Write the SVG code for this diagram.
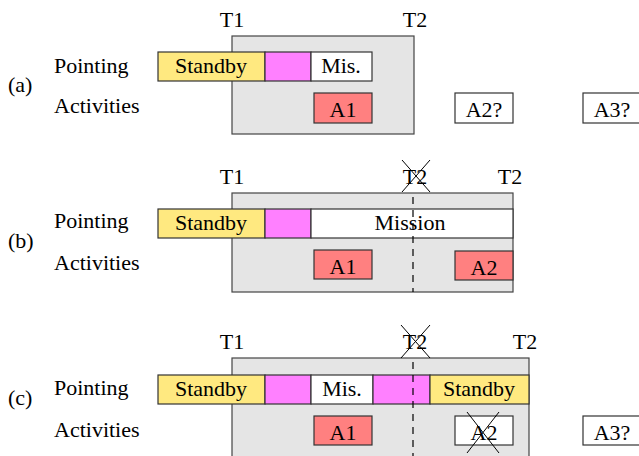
<svg xmlns="http://www.w3.org/2000/svg" width="639" height="456" viewBox="0 0 639 456">
<rect width="639" height="456" fill="#fff"/>
<g id="panel-a">
<text x="8" y="92" style="font-family:'Times New Roman','Liberation Serif',serif;font-size:22px">(a)</text>
<text x="54" y="73" style="font-family:'Times New Roman','Liberation Serif',serif;font-size:22px">Pointing</text>
<text x="54" y="113" style="font-family:'Times New Roman','Liberation Serif',serif;font-size:22px">Activities</text>
<g id="a-window"><rect x="232" y="36" width="182" height="98" fill="#e5e5e5" stroke="#444" stroke-width="1.2"/></g>
<text x="232" y="27" text-anchor="middle" style="font-family:'Times New Roman','Liberation Serif',serif;font-size:22px">T1</text>
<text x="415" y="27" text-anchor="middle" style="font-family:'Times New Roman','Liberation Serif',serif;font-size:22px">T2</text>
<g id="a-standby"><rect x="158" y="52" width="107" height="29" fill="#ffe980" stroke="#333" stroke-width="1.2"/><text x="211" y="73" text-anchor="middle" style="font-family:'Times New Roman','Liberation Serif',serif;font-size:22px">Standby</text></g>
<g id="a-slew"><rect x="265" y="52" width="46" height="29" fill="#ff80ff" stroke="#333" stroke-width="1.2"/></g>
<g id="a-mis"><rect x="311" y="52" width="61" height="29" fill="#fff" stroke="#333" stroke-width="1.2"/><text x="341" y="73" text-anchor="middle" style="font-family:'Times New Roman','Liberation Serif',serif;font-size:22px">Mis.</text></g>
<g id="a-a1"><rect x="314" y="93" width="58" height="30" fill="#ff8080" stroke="#333" stroke-width="1.2"/><text x="343" y="117" text-anchor="middle" style="font-family:'Times New Roman','Liberation Serif',serif;font-size:22px">A1</text></g>
<g id="a-a2"><rect x="455" y="93" width="58" height="30" fill="#fff" stroke="#333" stroke-width="1.2"/><text x="484" y="117" text-anchor="middle" style="font-family:'Times New Roman','Liberation Serif',serif;font-size:22px">A2?</text></g>
<g id="a-a3"><rect x="583" y="93" width="60" height="30" fill="#fff" stroke="#333" stroke-width="1.2"/><text x="612" y="117" text-anchor="middle" style="font-family:'Times New Roman','Liberation Serif',serif;font-size:22px">A3?</text></g>
</g>
<g id="panel-b">
<text x="8" y="248" style="font-family:'Times New Roman','Liberation Serif',serif;font-size:22px">(b)</text>
<text x="54" y="228" style="font-family:'Times New Roman','Liberation Serif',serif;font-size:22px">Pointing</text>
<text x="54" y="270" style="font-family:'Times New Roman','Liberation Serif',serif;font-size:22px">Activities</text>
<g id="b-window"><rect x="232" y="193" width="281" height="99" fill="#e5e5e5" stroke="#444" stroke-width="1.2"/></g>
<text x="232" y="184" text-anchor="middle" style="font-family:'Times New Roman','Liberation Serif',serif;font-size:22px">T1</text>
<text x="415" y="184" text-anchor="middle" style="font-family:'Times New Roman','Liberation Serif',serif;font-size:22px">T2</text>
<path d="M402 160L430 192M430 160L402 192" stroke="#000" stroke-width="1" fill="none"/>
<text x="510" y="184" text-anchor="middle" style="font-family:'Times New Roman','Liberation Serif',serif;font-size:22px">T2</text>
<g id="b-standby"><rect x="158" y="209" width="107" height="29" fill="#ffe980" stroke="#333" stroke-width="1.2"/><text x="211" y="230" text-anchor="middle" style="font-family:'Times New Roman','Liberation Serif',serif;font-size:22px">Standby</text></g>
<g id="b-slew"><rect x="265" y="209" width="46" height="29" fill="#ff80ff" stroke="#333" stroke-width="1.2"/></g>
<g id="b-mission"><rect x="311" y="209" width="202" height="29" fill="#fff" stroke="#333" stroke-width="1.2"/><text x="410" y="230" text-anchor="middle" style="font-family:'Times New Roman','Liberation Serif',serif;font-size:22px">Mission</text></g>
<g id="b-a1"><rect x="314" y="250" width="58" height="29" fill="#ff8080" stroke="#333" stroke-width="1.2"/><text x="343" y="274" text-anchor="middle" style="font-family:'Times New Roman','Liberation Serif',serif;font-size:22px">A1</text></g>
<g id="b-a2"><rect x="455" y="251" width="58" height="29" fill="#ff8080" stroke="#333" stroke-width="1.2"/><text x="484" y="275" text-anchor="middle" style="font-family:'Times New Roman','Liberation Serif',serif;font-size:22px">A2</text></g>
<path d="M413 197V292" stroke="#000" stroke-width="1.2" stroke-dasharray="7,6" fill="none"/>
</g>
<g id="panel-c">
<text x="8" y="405" style="font-family:'Times New Roman','Liberation Serif',serif;font-size:22px">(c)</text>
<text x="54" y="395" style="font-family:'Times New Roman','Liberation Serif',serif;font-size:22px">Pointing</text>
<text x="54" y="437" style="font-family:'Times New Roman','Liberation Serif',serif;font-size:22px">Activities</text>
<g id="c-window"><rect x="232" y="358" width="297" height="110" fill="#e5e5e5" stroke="#444" stroke-width="1.2"/></g>
<text x="232" y="349" text-anchor="middle" style="font-family:'Times New Roman','Liberation Serif',serif;font-size:22px">T1</text>
<text x="415" y="349" text-anchor="middle" style="font-family:'Times New Roman','Liberation Serif',serif;font-size:22px">T2</text>
<path d="M401 325L430 358M430 325L401 358" stroke="#000" stroke-width="1" fill="none"/>
<text x="525" y="349" text-anchor="middle" style="font-family:'Times New Roman','Liberation Serif',serif;font-size:22px">T2</text>
<g id="c-standby1"><rect x="158" y="375" width="107" height="29" fill="#ffe980" stroke="#333" stroke-width="1.2"/><text x="211" y="396" text-anchor="middle" style="font-family:'Times New Roman','Liberation Serif',serif;font-size:22px">Standby</text></g>
<g id="c-slew1"><rect x="265" y="375" width="46" height="29" fill="#ff80ff" stroke="#333" stroke-width="1.2"/></g>
<g id="c-mis"><rect x="311" y="375" width="62" height="29" fill="#fff" stroke="#333" stroke-width="1.2"/><text x="342" y="396" text-anchor="middle" style="font-family:'Times New Roman','Liberation Serif',serif;font-size:22px">Mis.</text></g>
<g id="c-slew2"><rect x="373" y="375" width="57" height="29" fill="#ff80ff" stroke="#333" stroke-width="1.2"/></g>
<g id="c-standby2"><rect x="430" y="375" width="99" height="29" fill="#ffe980" stroke="#333" stroke-width="1.2"/><text x="479" y="396" text-anchor="middle" style="font-family:'Times New Roman','Liberation Serif',serif;font-size:22px">Standby</text></g>
<g id="c-a1"><rect x="314" y="416" width="58" height="29" fill="#ff8080" stroke="#333" stroke-width="1.2"/><text x="343" y="440" text-anchor="middle" style="font-family:'Times New Roman','Liberation Serif',serif;font-size:22px">A1</text></g>
<g id="c-a2"><rect x="455" y="416" width="58" height="29" fill="#fff" stroke="#333" stroke-width="1.2"/><text x="484" y="440" text-anchor="middle" style="font-family:'Times New Roman','Liberation Serif',serif;font-size:22px">A2</text></g>
<path d="M467 412L499 453M499 412L467 453" stroke="#000" stroke-width="1" fill="none"/>
<g id="c-a3"><rect x="583" y="416" width="60" height="29" fill="#fff" stroke="#333" stroke-width="1.2"/><text x="612" y="440" text-anchor="middle" style="font-family:'Times New Roman','Liberation Serif',serif;font-size:22px">A3?</text></g>
<path d="M413 362V456" stroke="#000" stroke-width="1.2" stroke-dasharray="7,6" fill="none"/>
</g>
</svg>
